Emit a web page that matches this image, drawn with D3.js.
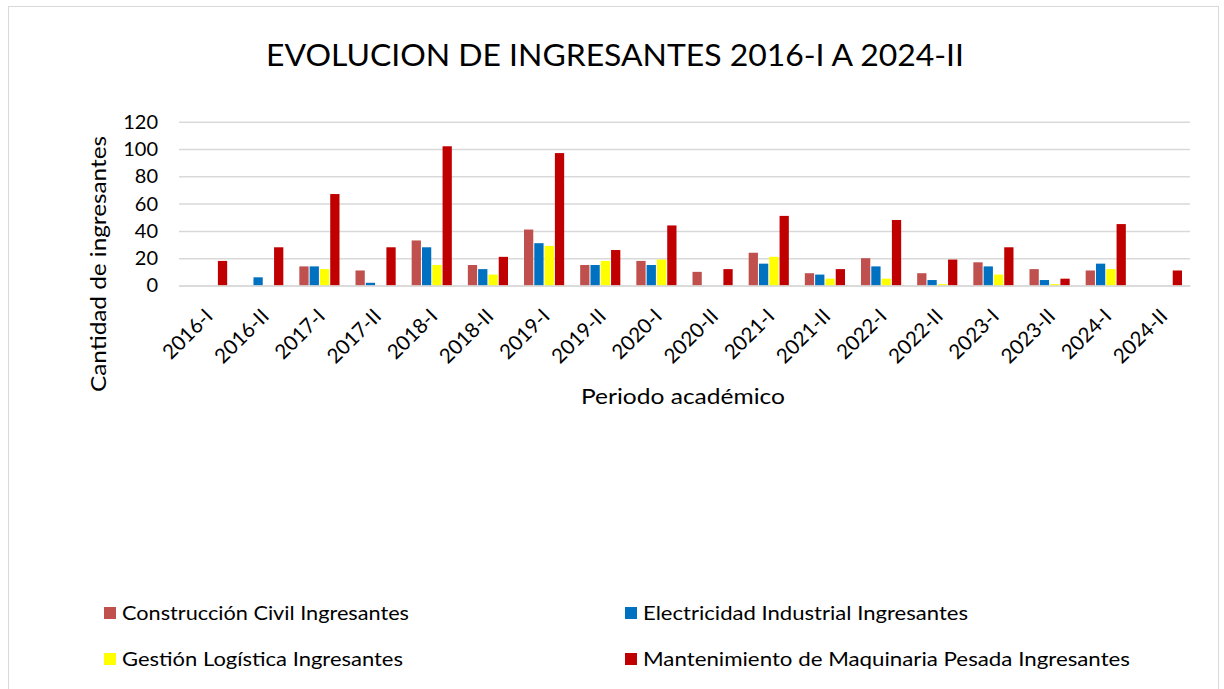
<!DOCTYPE html>
<html lang="es">
<head>
  <meta charset="UTF-8" />
  <title>Evolucion de ingresantes</title>
  <script src="https://cdn.jsdelivr.net/npm/d3@7"></script>
  <style>
    body { margin: 0; background: #fff; }
    text { font-family: Lato, "Open Sans", sans-serif; fill: #000; }
  </style>
</head>
<body>
  <svg id="svg"></svg>
</body>
<script>
  const periodos = ["2016-I", "2016-II", "2017-I", "2017-II", "2018-I", "2018-II", "2019-I", "2019-II", "2020-I",
    "2020-II", "2021-I", "2021-II", "2022-I", "2022-II", "2023-I", "2023-II", "2024-I", "2024-II"];

  const series = ["Construcción Civil Ingresantes", "Electricidad Industrial Ingresantes",
    "Gestión Logística Ingresantes", "Mantenimiento de Maquinaria Pesada Ingresantes"];

  const construccion = [0, 0, 14, 11, 33, 15, 41, 15, 18, 10, 24, 9, 20, 9, 17, 12, 11, 0];
  const electricidad = [0, 6, 14, 2, 28, 12, 31, 15, 15, 0, 16, 8, 14, 4, 14, 4, 16, 0];
  const logistica = [0, 0, 12, 0, 15, 8, 29, 18, 19, 0, 21, 5, 5, 1, 8, 1, 12, 0];
  const maquinaria = [18, 28, 67, 28, 102, 21, 97, 26, 44, 12, 51, 12, 48, 19, 28, 5, 45, 11];

  const yTicks = [0, 20, 40, 60, 80, 100, 120];

  const colores = ["#c0504d", "#0070c0", "#ffff00", "#c00000"];

  const width = 1224;
  const height = 689;
  const plot = { left: 179, right: 1190, top: 121.7, bottom: 285.5 };

  const valores = [construccion, electricidad, logistica, maquinaria];
  const data = periodos.map((p, i) => ({
    periodo: p,
    vals: series.map((s, k) => ({ serie: s, k: k, v: valores[k][i] }))
  }));

  const svg = d3.select("#svg").attr("width", width).attr("height", height);

  // marco
  svg.append("rect")
    .attr("x", 8.5).attr("y", 6.5)
    .attr("width", 1210).attr("height", 700)
    .attr("fill", "none").attr("stroke", "#d9d9d9");

  const x0 = d3.scaleBand().domain(periodos).range([plot.left, plot.right]).padding(0);
  const bw = x0.bandwidth();
  const groupW = bw * 0.715;
  const x1 = d3.scaleBand().domain(d3.range(series.length))
    .range([(bw - groupW) / 2, (bw + groupW) / 2]).paddingInner(0.1);

  const y = d3.scaleLinear().domain([0, 120]).range([plot.bottom, plot.top]);

  // grid
  const yAxis = d3.axisLeft(y).tickValues(yTicks).tickSize(-(plot.right - plot.left)).tickPadding(21);
  const yg = svg.append("g").attr("transform", `translate(${plot.left},0)`).call(yAxis);
  yg.select(".domain").remove();
  yg.selectAll(".tick line").attr("stroke", "#d9d9d9").attr("stroke-width", 1.5);
  yg.selectAll(".tick text").attr("font-size", 20).attr("fill", "#000")
    .style("font-family", "Lato, 'Open Sans', sans-serif");

  // barras
  const groups = svg.append("g").selectAll("g")
    .data(data).join("g")
    .attr("transform", d => `translate(${x0(d.periodo)},0)`);

  groups.selectAll("rect")
    .data(d => d.vals.filter(e => e.v > 0))
    .join("rect")
    .attr("x", d => x1(d.k))
    .attr("width", x1.bandwidth())
    .attr("y", d => y(d.v))
    .attr("height", d => y(0) - y(d.v))
    .attr("fill", d => colores[d.k]);

  // eje x
  const xAxis = d3.axisBottom(x0).tickSize(0).tickPadding(0);
  const xg = svg.append("g").attr("transform", `translate(0,${plot.bottom})`).call(xAxis);
  xg.select(".domain").attr("stroke", "#d9d9d9").attr("stroke-width", 1.5);
  xg.selectAll(".tick text")
    .attr("font-size", 20.5)
    .attr("fill", "#000")
    .style("font-family", "Lato, 'Open Sans', sans-serif")
    .attr("text-anchor", "end")
    .attr("dy", 0)
    .attr("transform", "translate(7,32) rotate(-45)");

  // titulos
  svg.append("text")
    .attr("x", 615).attr("y", 66)
    .attr("text-anchor", "middle")
    .attr("font-size", 31)
    .attr("textLength", 698)
    .attr("lengthAdjust", "spacingAndGlyphs")
    .text("EVOLUCION DE INGRESANTES 2016-I A 2024-II");

  svg.append("text")
    .attr("transform", "translate(106,264) rotate(-90)")
    .attr("text-anchor", "middle")
    .attr("font-size", 22)
    .attr("textLength", 256)
    .attr("lengthAdjust", "spacingAndGlyphs")
    .text("Cantidad de ingresantes");

  svg.append("text")
    .attr("x", 683).attr("y", 404)
    .attr("text-anchor", "middle")
    .attr("font-size", 22)
    .attr("textLength", 204)
    .attr("lengthAdjust", "spacingAndGlyphs")
    .text("Periodo académico");

  // leyenda
  const legendPos = [[104, 613], [625, 613], [104, 659], [625, 659]];
  const legendLen = [287, 325, 281, 487];
  const leg = svg.append("g").selectAll("g")
    .data(series).join("g")
    .attr("transform", (d, i) => `translate(${legendPos[i][0]},${legendPos[i][1]})`);
  leg.append("rect")
    .attr("x", 0).attr("y", -6).attr("width", 12).attr("height", 12)
    .attr("fill", (d, i) => colores[i]);
  leg.append("text")
    .attr("x", 18).attr("y", 7)
    .attr("font-size", 20)
    .attr("textLength", (d, i) => legendLen[i])
    .attr("lengthAdjust", "spacingAndGlyphs")
    .text(d => d);
</script>
</html>
